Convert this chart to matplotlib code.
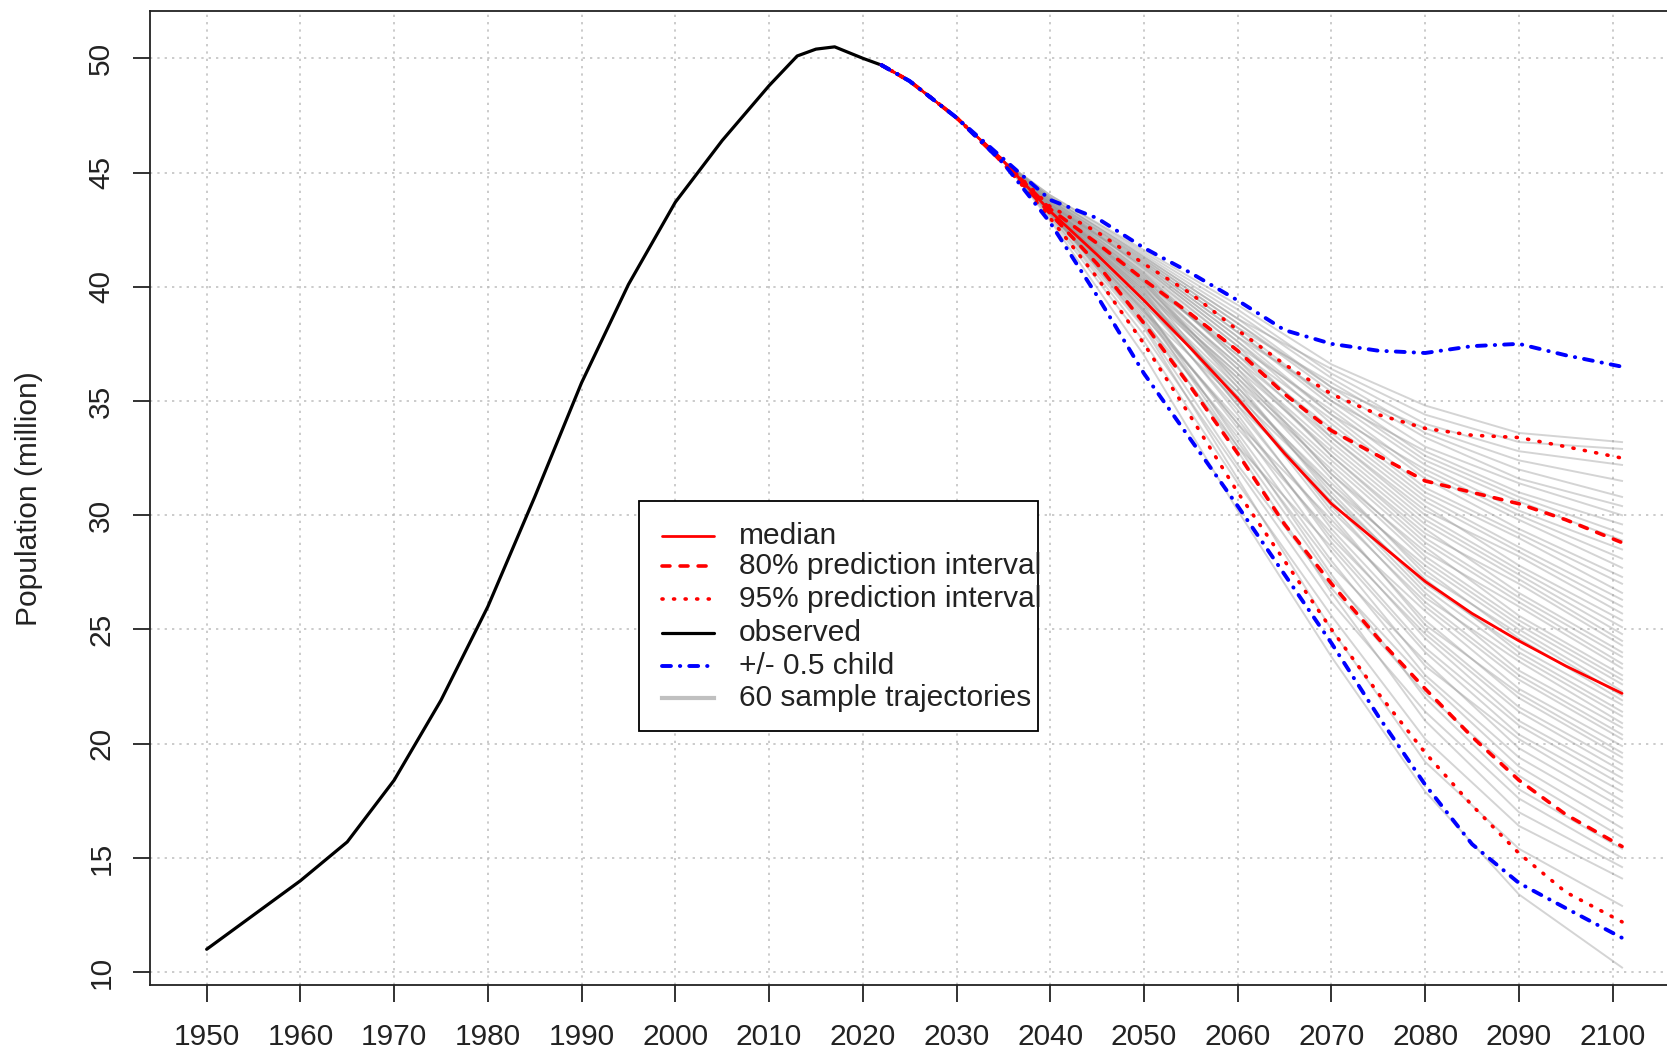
import matplotlib
matplotlib.use("Agg")
import matplotlib.pyplot as plt
from matplotlib.patches import Rectangle

plt.rcParams['font.family'] = ['Liberation Sans', 'DejaVu Sans']

# observed population (million)
obs_years = [1950, 1955, 1960, 1965, 1970, 1975, 1980, 1985, 1990, 1995,
             2000, 2005, 2010, 2013, 2015, 2017, 2020, 2022]
obs_pop = [11.0, 12.5, 14.0, 15.7, 18.4, 21.9, 26.0, 30.8, 35.8, 40.1,
           43.7, 46.4, 48.8, 50.1, 50.4, 50.5, 50.0, 49.7]

# projections
proj_years = [2022, 2025, 2030, 2035, 2040, 2045, 2050, 2055, 2060, 2065,
              2070, 2075, 2080, 2085, 2090, 2095, 2101]
median = [49.7, 49.0, 47.4, 45.5, 43.3, 41.4, 39.4, 37.3, 35.1, 32.7,
          30.5, 28.8, 27.1, 25.7, 24.5, 23.4, 22.2]
pi80_lo = [49.7, 49.0, 47.4, 45.4, 43.2, 41.0, 38.4, 35.6, 32.7, 29.6,
           27.0, 24.6, 22.4, 20.3, 18.4, 16.9, 15.5]
pi80_hi = [49.7, 49.0, 47.4, 45.5, 43.4, 41.9, 40.3, 38.8, 37.2, 35.3,
           33.7, 32.6, 31.5, 31.0, 30.5, 29.8, 28.8]
pi95_lo = [49.7, 49.0, 47.4, 45.4, 43.0, 40.4, 37.5, 34.3, 31.0, 28.0,
           25.0, 22.2, 19.6, 17.3, 15.2, 13.5, 12.2]
pi95_hi = [49.7, 49.0, 47.4, 45.5, 43.5, 42.4, 41.0, 39.7, 38.1, 36.6,
           35.3, 34.4, 33.8, 33.5, 33.4, 33.0, 32.5]
half_lo = [49.7, 49.0, 47.4, 45.4, 42.8, 39.6, 36.2, 33.3, 30.4, 27.4,
           24.4, 21.2, 18.2, 15.6, 13.9, 12.8, 11.5]
half_hi = [49.7, 49.0, 47.4, 45.6, 43.8, 43.0, 41.7, 40.6, 39.4, 38.1,
           37.5, 37.2, 37.1, 37.4, 37.5, 37.0, 36.5]

# 60 sample trajectories (they share the first part of the projection)
traj_years = [2040, 2050, 2060, 2070, 2080, 2090, 2101]
trajectories = [
    [42.9, 37.0, 30.2, 23.8, 17.9, 13.4, 10.2],
    [43.1, 38.2, 31.6, 25.0, 19.2, 15.4, 12.9],
    [43.0, 37.6, 31.4, 25.6, 20.2, 16.4, 14.1],
    [43.2, 38.6, 32.8, 26.6, 21.0, 17.0, 14.6],
    [43.1, 37.9, 32.0, 26.2, 21.4, 17.6, 15.0],
    [43.2, 38.8, 33.4, 27.4, 22.0, 18.0, 15.4],
    [43.3, 38.3, 32.2, 26.8, 22.2, 18.6, 15.9],
    [43.2, 39.0, 33.0, 27.2, 22.8, 19.0, 16.3],
    [43.3, 38.5, 33.6, 28.0, 23.0, 19.4, 16.8],
    [43.2, 39.2, 33.2, 27.8, 23.6, 19.8, 17.2],
    [43.4, 38.9, 34.0, 28.4, 23.4, 20.2, 17.5],
    [43.2, 38.4, 33.0, 28.6, 24.0, 20.4, 17.9],
    [43.3, 39.5, 34.4, 28.8, 24.2, 20.8, 18.2],
    [43.4, 39.1, 33.8, 29.2, 24.6, 21.0, 18.5],
    [43.3, 38.7, 34.2, 29.0, 24.8, 21.4, 18.8],
    [43.5, 39.8, 34.8, 29.4, 25.0, 21.6, 19.1],
    [43.2, 39.0, 34.0, 29.8, 25.4, 22.0, 19.4],
    [43.4, 39.6, 35.2, 30.0, 25.2, 22.2, 19.6],
    [43.3, 39.3, 34.6, 29.6, 25.8, 22.4, 19.9],
    [43.5, 40.0, 35.0, 30.4, 26.0, 22.8, 20.2],
    [43.3, 39.2, 35.4, 30.2, 26.2, 23.0, 20.4],
    [43.4, 39.7, 34.8, 30.8, 26.6, 23.2, 20.7],
    [43.2, 38.9, 35.0, 30.6, 26.4, 23.6, 20.9],
    [43.5, 40.2, 35.6, 31.0, 26.8, 23.8, 21.2],
    [43.3, 39.4, 35.2, 31.2, 27.2, 24.0, 21.4],
    [43.4, 39.9, 35.8, 30.8, 27.0, 24.2, 21.7],
    [43.3, 39.5, 35.4, 31.4, 27.6, 24.6, 21.9],
    [43.5, 40.1, 36.0, 31.6, 27.4, 24.8, 22.1],
    [43.4, 39.6, 35.6, 31.2, 27.8, 25.0, 22.3],
    [43.3, 39.8, 36.2, 31.8, 28.0, 25.2, 22.6],
    [43.5, 40.3, 35.8, 32.0, 28.2, 25.4, 22.8],
    [43.4, 39.7, 36.0, 32.2, 28.6, 25.6, 23.0],
    [43.6, 40.4, 36.4, 31.8, 28.4, 26.0, 23.3],
    [43.3, 39.9, 36.2, 32.4, 28.8, 26.2, 23.5],
    [43.5, 40.2, 36.6, 32.6, 29.0, 26.4, 23.8],
    [43.4, 40.0, 36.4, 32.8, 29.4, 26.6, 24.0],
    [43.6, 40.5, 36.8, 32.6, 29.2, 27.0, 24.3],
    [43.4, 40.1, 36.6, 33.0, 29.6, 27.2, 24.5],
    [43.5, 40.4, 37.0, 33.2, 29.8, 27.4, 24.8],
    [43.6, 40.6, 36.8, 33.4, 30.0, 27.6, 25.1],
    [43.4, 40.2, 37.2, 33.6, 30.4, 27.8, 25.4],
    [43.6, 40.7, 37.4, 33.4, 30.2, 28.2, 25.7],
    [43.5, 40.3, 37.0, 33.8, 30.6, 28.4, 26.0],
    [43.7, 40.8, 37.6, 34.0, 30.8, 28.6, 26.3],
    [43.5, 40.5, 37.2, 34.2, 31.0, 29.0, 26.6],
    [43.6, 40.9, 37.8, 34.4, 31.2, 29.2, 27.0],
    [43.7, 40.6, 37.4, 34.6, 31.6, 29.4, 27.3],
    [43.6, 41.0, 38.0, 34.8, 31.8, 29.8, 27.7],
    [43.8, 40.8, 37.6, 34.4, 32.0, 30.0, 28.1],
    [43.7, 41.1, 38.2, 35.0, 32.2, 30.2, 28.5],
    [43.6, 40.9, 37.8, 35.2, 32.4, 30.6, 28.9],
    [43.8, 41.2, 38.4, 35.4, 32.6, 30.8, 29.2],
    [43.7, 41.0, 38.0, 35.0, 32.8, 31.0, 29.6],
    [43.9, 41.3, 38.6, 35.6, 33.0, 31.4, 30.0],
    [43.8, 41.1, 38.2, 35.8, 33.4, 31.6, 30.4],
    [43.9, 41.4, 38.8, 36.0, 33.6, 32.0, 30.8],
    [43.8, 41.2, 38.4, 35.6, 33.8, 32.4, 31.5],
    [44.0, 41.5, 39.0, 36.2, 34.0, 32.8, 32.2],
    [43.9, 41.3, 38.6, 36.4, 34.4, 33.2, 32.9],
    [44.0, 41.6, 39.2, 36.6, 34.8, 33.6, 33.2],
]

x_ticks = list(range(1950, 2101, 10))
y_ticks = list(range(10, 51, 5))

legend_labels = ['median', '80% prediction interval', '95% prediction interval',
                 'observed', '+/- 0.5 child', '60 sample trajectories']

# line styles
red = '#ff0000'
blue = '#0000ff'
grey = '#9a9a9a'
st_median = dict(color=red, lw=2.0, solid_capstyle='round')
st_80 = dict(color=red, lw=2.6, dashes=(2.2, 2.8), dash_capstyle='round')
st_95 = dict(color=red, lw=2.6, dashes=(0.3, 2.9), dash_capstyle='round')
st_obs = dict(color='black', lw=2.3, solid_capstyle='round', solid_joinstyle='round')
st_half = dict(color=blue, lw=2.8, dashes=(2.3, 2.3, 0.1, 2.3), dash_capstyle='round')
st_traj = dict(color=grey, lw=1.4, alpha=0.42)

fig = plt.figure(figsize=(16.67, 10.54), dpi=100)
ax = fig.add_axes([0.09, 0.0651, 0.917, 0.9247])

shared_years = proj_years[:4]
shared_vals = median[:4]
for tr in trajectories:
    ax.plot(shared_years + traj_years, shared_vals + tr, zorder=2, **st_traj)

ax.plot(obs_years, obs_pop, zorder=3, **st_obs)
ax.plot(proj_years, median, zorder=4, **st_median)
ax.plot(proj_years, pi80_lo, zorder=4, **st_80)
ax.plot(proj_years, pi80_hi, zorder=4, **st_80)
ax.plot(proj_years, pi95_lo, zorder=4, **st_95)
ax.plot(proj_years, pi95_hi, zorder=4, **st_95)
ax.plot(proj_years, half_lo, zorder=5, **st_half)
ax.plot(proj_years, half_hi, zorder=5, **st_half)

ax.set_xlim(1943.96, 2107.04)
ax.set_ylim(9.42, 52.08)
ax.set_xticks(x_ticks)
ax.set_yticks(y_ticks)
ax.grid(True, color='#bdbdbd', lw=1.1, linestyle=(0, (1.5, 3.3)))
ax.set_axisbelow(True)

for s in ax.spines.values():
    s.set_linewidth(1.3)
    s.set_color('#222222')
ax.spines['right'].set_visible(False)

ax.tick_params(axis='both', length=12, width=1.3, color='#222222',
               labelsize=21.5, labelcolor='#222222')
ax.tick_params(axis='x', pad=15)
ax.tick_params(axis='y', pad=13, labelrotation=90)
for lab in ax.get_yticklabels():
    lab.set_va('center')

fig.text(29 / 1667, 0.5273, 'Population (million)', rotation=90,
         ha='center', va='center', fontsize=21.5, color='#222222')

# legend box drawn by hand so the long labels get cut at the frame like in R
box = Rectangle((0.3199, 0.2606), 0.2608, 0.2367, transform=ax.transAxes,
                facecolor='white', edgecolor='black', lw=1.3, zorder=10)
ax.add_patch(box)
entry_y = [0.4614, 0.4298, 0.3960, 0.3611, 0.3273, 0.2946]
entry_styles = [st_median, st_80, st_95, st_obs, st_half,
                dict(color='#c0c0c0', lw=3.0)]
for yy, lab, st in zip(entry_y, legend_labels, entry_styles):
    ax.plot([0.3351, 0.3692], [yy, yy], transform=ax.transAxes, zorder=11, **st)
    t = ax.text(0.3853, yy, lab, transform=ax.transAxes, fontsize=21.5,
                va='center', ha='left', color='#222222', zorder=11)
    t.set_clip_path(box)

fig.savefig('out.png', dpi=100)
